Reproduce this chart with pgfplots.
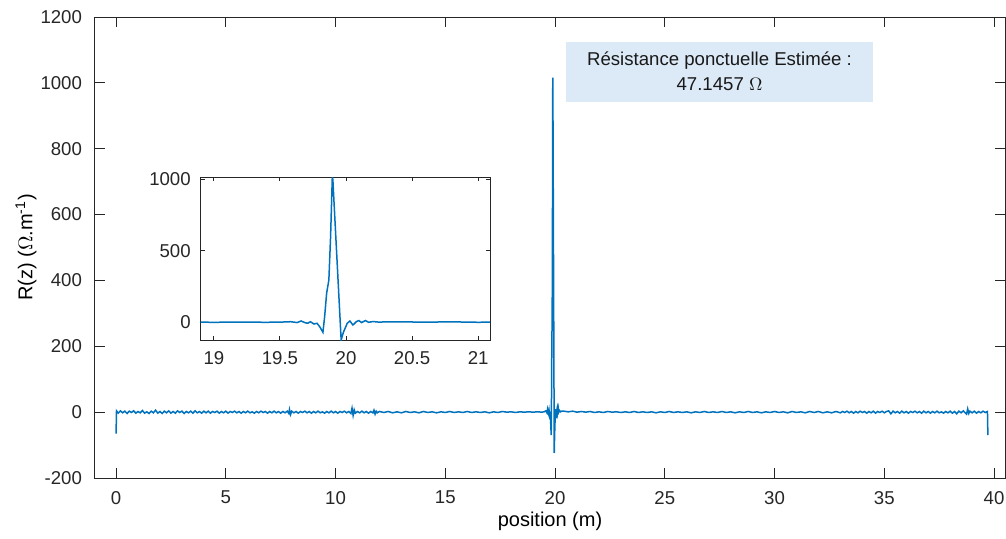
\documentclass[border=0pt]{standalone}
\usepackage{pgfplots}
\pgfplotsset{compat=1.18}
\usepackage{pgfplotstable}
\usepackage{fontspec}
\setmainfont{Liberation Sans}
\definecolor{mlblue}{RGB}{0,114,189}
\definecolor{boxbg}{RGB}{220,233,247}
\definecolor{axgray}{RGB}{38,38,38}

\pgfplotstableread[row sep=\\]{
x y\\
0 -65\\ 0.02 4\\
0.1 -3\\ 0.2 4\\ 0.3 -2\\ 0.4 3\\ 0.5 -4\\ 0.6 3\\ 0.7 -1\\ 0.8 4\\ 0.9 -3\\ 1.0 2\\
1.1 -2\\ 1.2 5\\ 1.3 -3\\ 1.4 1\\ 1.5 -4\\ 1.6 3\\ 1.7 -2\\ 1.8 6\\ 1.9 -3\\ 2.0 2\\
2.1 -4\\ 2.2 3\\ 2.3 -2\\ 2.4 4\\ 2.5 -3\\ 2.6 2\\ 2.7 -3\\ 2.8 4\\ 2.9 -1\\ 3.0 3\\
3.1 -4\\ 3.2 2\\ 3.3 -2\\ 3.4 3\\ 3.5 -3\\ 3.6 4\\ 3.7 -2\\ 3.8 2\\ 3.9 -3\\ 4.0 3\\
4.1 -2\\ 4.2 3\\ 4.3 -3\\ 4.4 2\\ 4.5 -1\\ 4.6 3\\ 4.7 -3\\ 4.8 2\\ 4.9 -2\\ 5.0 3\\
5.1 -3\\ 5.2 2\\ 5.3 -1\\ 5.4 3\\ 5.5 -2\\ 5.6 2\\ 5.7 -3\\ 5.8 2\\ 5.9 -2\\ 6.0 3\\
6.1 -2\\ 6.2 1\\ 6.3 -3\\ 6.4 2\\ 6.5 -2\\ 6.6 3\\ 6.7 -1\\ 6.8 2\\ 6.9 -3\\ 7.0 2\\
7.1 -2\\ 7.2 3\\ 7.3 -2\\ 7.4 2\\ 7.5 -3\\ 7.6 2\\ 7.7 -2\\ 7.8 3\\ 7.87 -4\\ 7.9 8\\
7.95 -7\\ 8.0 3\\ 8.1 -2\\ 8.2 2\\ 8.3 -3\\ 8.4 2\\ 8.5 -1\\ 8.6 3\\ 8.7 -2\\ 8.8 2\\
8.9 -3\\ 9.0 2\\ 9.1 -2\\ 9.2 3\\ 9.3 -2\\ 9.4 1\\ 9.5 -3\\ 9.6 2\\ 9.7 -2\\ 9.8 3\\
9.9 -2\\ 10.0 2\\ 10.1 -3\\ 10.2 2\\ 10.3 -1\\ 10.4 3\\ 10.5 -2\\ 10.6 2\\ 10.7 -4\\ 10.75 12\\
10.8 -10\\ 10.85 7\\ 10.9 -3\\ 11.0 2\\ 11.1 -2\\ 11.2 3\\ 11.3 -2\\ 11.4 2\\ 11.5 -3\\ 11.6 2\\
11.7 -2\\ 11.75 6\\ 11.8 -6\\ 11.85 3\\ 11.9 -2\\ 12.0 2\\
12.2 -1\\ 12.4 2\\ 12.6 -2\\ 12.8 1\\ 13.0 -2\\ 13.2 2\\ 13.4 -1\\ 13.6 1\\ 13.8 -2\\ 14.0 2\\
14.2 -1\\ 14.4 1\\ 14.6 -2\\ 14.8 1\\ 15.0 -1\\ 15.2 2\\ 15.4 -1\\ 15.6 1\\ 15.8 -1\\ 16.0 2\\
16.2 -1\\ 16.4 1\\ 16.6 -1\\ 16.8 1\\ 17.0 -2\\ 17.2 1\\ 17.4 -1\\ 17.6 2\\ 17.8 0\\ 18.0 1\\
18.2 -1\\ 18.4 1\\ 18.6 0\\ 18.8 1\\ 19.0 0\\ 19.2 1\\ 19.4 0\\
19.50 1\\ 19.58 4\\ 19.63 -2\\ 19.66 9\\ 19.69 -3\\ 19.71 -7\\ 19.73 4\\ 19.757 -12\\ 19.78 -7\\ 19.80 -30\\
19.825 -70\\ 19.838 40\\ 19.853 203\\ 19.870 296\\ 19.883 599\\ 19.896 1016\\ 19.900 1000\\ 19.963 -124\\ 19.980 -70\\ 20.009 -7\\
20.029 9\\ 20.052 -19\\ 20.079 5\\ 20.097 12\\ 20.117 -2\\ 20.147 12\\ 20.17 0\\ 20.205 5\\ 20.25 1\\ 20.30 3\\
20.4 3\\ 20.6 1\\ 20.8 3\\ 21.0 0\\ 21.2 2\\ 21.4 0\\ 21.6 2\\ 21.8 -1\\ 22.0 1\\ 22.2 -1\\
22.4 2\\ 22.6 0\\ 22.8 1\\ 23.0 -1\\ 23.2 1\\ 23.4 -1\\ 23.6 2\\ 23.8 -1\\ 24.0 1\\ 24.2 -1\\
24.4 1\\ 24.6 -2\\ 24.8 1\\ 25.0 -1\\ 25.2 2\\ 25.4 -1\\ 25.6 1\\ 25.8 -1\\ 26.0 1\\ 26.2 -2\\
26.4 1\\ 26.6 -1\\ 26.8 2\\ 27.0 -1\\ 27.2 1\\ 27.4 -1\\ 27.6 2\\ 27.8 -1\\ 28.0 1\\ 28.2 -2\\
28.4 1\\ 28.6 -1\\ 28.8 2\\ 29.0 -1\\ 29.2 1\\ 29.4 -2\\ 29.6 1\\ 29.8 -1\\ 30.0 2\\ 30.2 -1\\
30.4 1\\ 30.6 -2\\ 30.8 2\\ 31.0 -1\\ 31.2 1\\ 31.4 -2\\ 31.6 2\\ 31.8 -1\\ 32.0 2\\ 32.2 -2\\
32.4 1\\ 32.6 -2\\ 32.8 2\\ 33.0 -2\\
33.1 2\\ 33.2 -1\\ 33.3 3\\ 33.4 -2\\ 33.5 2\\ 33.6 -3\\ 33.7 2\\ 33.8 -2\\ 33.9 3\\ 34.0 -1\\
34.1 2\\ 34.2 -3\\ 34.3 2\\ 34.4 -2\\ 34.5 3\\ 34.6 -3\\ 34.7 2\\ 34.8 -1\\ 34.9 3\\ 35.0 -2\\
35.1 2\\ 35.2 4\\ 35.3 -5\\ 35.4 3\\ 35.5 -2\\ 35.6 2\\ 35.7 -3\\ 35.8 3\\ 35.9 -2\\ 36.0 2\\
36.1 -3\\ 36.2 2\\ 36.3 -1\\ 36.4 3\\ 36.5 -2\\ 36.6 2\\ 36.7 -3\\ 36.8 3\\ 36.9 -2\\ 37.0 2\\
37.1 -3\\ 37.2 2\\ 37.3 -2\\ 37.4 3\\ 37.5 -2\\ 37.6 1\\ 37.7 -3\\ 37.8 2\\ 37.9 -2\\ 38.0 3\\
38.1 -3\\ 38.2 2\\ 38.3 -5\\ 38.4 3\\ 38.5 -2\\ 38.6 4\\ 38.7 -3\\ 38.75 -6\\ 38.8 10\\ 38.85 -4\\
38.9 3\\ 39.0 -2\\ 39.1 3\\ 39.2 -3\\ 39.3 2\\ 39.4 -2\\ 39.5 3\\ 39.6 -1\\ 39.7 2\\ 39.72 -70\\
}\rdata

\begin{document}
\begin{tikzpicture}
\pgfplotsset{
  mystyle/.style={
    scale only axis,
    axis line style={axgray, line width=0.5pt},
    tick style={axgray, line width=0.5pt},
    tick align=inside,
    tick pos=both,
    ticklabel style={font=\fontsize{9.3}{11}\selectfont, color=axgray},
    /pgf/number format/assume math mode=true,
    /pgf/number format/.cd, 1000 sep={},
  },
}
\begin{axis}[
  mystyle,
  at={(0,0)}, anchor=south west,
  width=455pt, height=230.5pt,
  xmin=-0.96, xmax=40.5,
  ymin=-200, ymax=1200,
  xtick={0,5,...,40},
  ytick={-200,0,...,1200},
  major tick length=5pt,
  xticklabel style={yshift=-3pt},
  yticklabel style={xshift=-3pt},
  xlabel={position (m)},
  ylabel={R(z) ($\Omega$.m\textsuperscript{-1})},
  label style={font=\fontsize{10.2}{12}\selectfont, color=axgray},
  every axis x label/.style={at={(axis description cs:0.5,0)}, yshift=-21.5pt, anchor=center},
  every axis y label/.style={at={(axis description cs:0,0.5)}, xshift=-34.5pt, rotate=90, anchor=center},
]
\addplot[mlblue, line width=0.75pt] table[x=x,y=y] {\rdata};
\end{axis}

\fill[boxbg] (235.5pt,188.15pt) rectangle (389pt,218.15pt);
\node[align=center, font=\fontsize{9.3}{12.5}\selectfont, text=black!90, inner sep=0pt] at (312.25pt,203.4pt)
  {Résistance ponctuelle Estimée :\\47.1457 $\Omega$};

\begin{axis}[
  mystyle,
  at={(52.85pt,69pt)}, anchor=south west,
  width=144.65pt, height=81.5pt,
  xmin=18.9, xmax=21.09,
  ymin=-124, ymax=1016,
  xtick={19,19.5,...,21},
  ytick={0,500,1000},
  major tick length=2pt,
  axis background/.style={fill=white},
  xticklabel style={yshift=-2pt},
  yticklabel style={xshift=-1.5pt},
]
\addplot[mlblue, line width=0.75pt] table[x=x,y=y] {\rdata};
\end{axis}

\pgfresetboundingbox
\path[use as bounding box] (-47.5pt,-30pt) rectangle (455.5pt,239pt);
\end{tikzpicture}
\end{document}
